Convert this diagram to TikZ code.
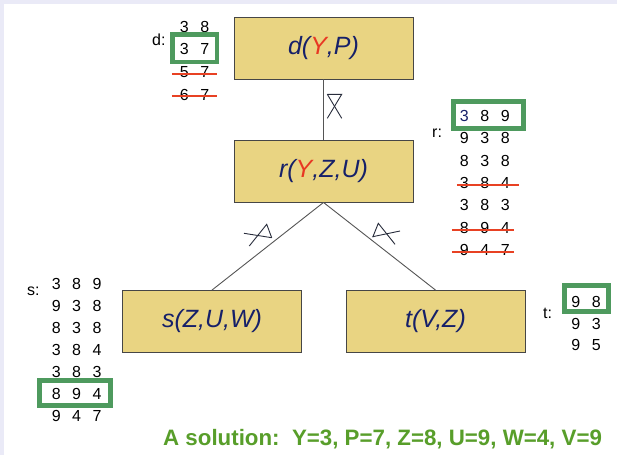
\documentclass[tikz,border=0pt]{standalone}
\usepackage{fontspec}
\setmainfont{Liberation Sans}
\usetikzlibrary{calc}
\definecolor{boxfill}{RGB}{233,212,130}
\definecolor{boxedge}{RGB}{70,70,70}
\definecolor{navy}{RGB}{22,32,105}
\definecolor{redY}{RGB}{232,55,35}
\definecolor{hitgreen}{RGB}{78,154,94}
\definecolor{strikered}{RGB}{232,65,35}
\definecolor{solgreen}{RGB}{88,158,42}
\definecolor{lav}{RGB}{234,234,247}
\definecolor{conngray}{RGB}{85,85,85}
\definecolor{markdark}{RGB}{40,45,60}
\newcommand\dgt[1]{\makebox[20.5pt]{#1}}
\tikzset{
  rel/.style={draw=boxedge, fill=boxfill, line width=0.9pt, minimum width=179pt,
    minimum height=62pt, inner sep=0pt, text=navy,
    font=\fontsize{25}{25}\selectfont\itshape},
  tup/.style={inner sep=0pt, font=\fontsize{16}{16}\selectfont},
  lab/.style={inner sep=0pt, anchor=base west, font=\fontsize{16}{16}\selectfont},
  hitbox/.style={draw=hitgreen, line width=4.5pt},
  strikeline/.style={draw=strikered, line width=2pt},
  conn/.style={draw=conngray, line width=0.9pt},
  edgemark/.style={draw=markdark, line width=0.9pt}
}
\begin{document}
\begin{tikzpicture}[x=1pt,y=-1pt]
\useasboundingbox (0,0) rectangle (617,455);
\fill[white] (0,0) rectangle (617,455);
\fill[lav] (0,0) rectangle (617,3.7);
\fill[lav] (0,0) rectangle (3.7,455);

% relation boxes
\node[rel] (d) at (323.5,48) {d(\textcolor{redY}{Y},P)};
\node[rel] (r) at (323.5,171) {r(\textcolor{redY}{Y},Z,U)};
\node[rel] (s) at (212,321.5) {s(Z,U,W)};
\node[rel] (t) at (435.5,321.5) {t(V,Z)};

% connectors
\draw[conn] (d.south -| r.north) -- (r.north);
\draw[conn] (r.south) -- (s.north);
\draw[conn] (r.south) -- (t.north);

% edge marks
\draw[edgemark] (327.3,94.3) -- (341.7,94.3) -- (327.3,118.3);
\draw[edgemark] (327.3,94.3) -- (341.7,118.3);
\draw[edgemark] (244,233.3) -- (271.7,237.7);
\draw[edgemark] (249.3,246) -- (266.7,224.3) -- (271.7,237.7);
\draw[edgemark] (372.7,236.7) -- (400,231);
\draw[edgemark] (372.7,237.3) -- (378.3,223.3) -- (395,244.3);

% table d
\node[lab] (dl) at (152,45) {d:};
\node[tup] (d1) at (194.5,26.5) {\dgt3\dgt8};
\node[tup] (d2) at (194.5,49.2) {\dgt3\dgt7};
\node[tup] (d3) at (194.5,71.9) {\dgt5\dgt7};
\node[tup] (d4) at (194.5,94.6) {\dgt6\dgt7};
\draw[strikeline] ($(d3.west)+(-2,1.8)$) -- ($(d3.east)+(2,1.8)$);
\draw[strikeline] ($(d4.west)+(-2,1.5)$) -- ($(d4.east)+(2,1.5)$);
\draw[hitbox] (172.5,34.5) rectangle (217,62);

% table r
\node[lab] (rl) at (432,137) {r:};
\node[tup] (r1) at (484.7,116) {\dgt{\textcolor{navy}{3}}\dgt8\dgt9};
\node[tup] (r2) at (484.7,138.3) {\dgt9\dgt3\dgt8};
\node[tup] (r3) at (484.7,160.6) {\dgt8\dgt3\dgt8};
\node[tup] (r4) at (484.7,182.9) {\dgt3\dgt8\dgt4};
\node[tup] (r5) at (484.7,205.2) {\dgt3\dgt8\dgt3};
\node[tup] (r6) at (484.7,227.5) {\dgt8\dgt9\dgt4};
\node[tup] (r7) at (484.7,249.8) {\dgt9\dgt4\dgt7};
\draw[strikeline] ($(r4.west)+(3,2)$) -- ($(r4.east)+(3.5,2)$);
\draw[strikeline] ($(r6.west)+(-2,2.5)$) -- ($(r6.east)+(-1.5,2.5)$);
\draw[strikeline] ($(r7.west)+(-2,2.2)$) -- ($(r7.east)+(-1.5,2.2)$);
\draw[hitbox] (453.3,101.3) rectangle (523.7,128.7);

% table s
\node[lab] (sl) at (27,295) {s:};
\node[tup] (s1) at (76.7,284) {\dgt3\dgt8\dgt9};
\node[tup] (s2) at (76.7,306) {\dgt9\dgt3\dgt8};
\node[tup] (s3) at (76.7,328) {\dgt8\dgt3\dgt8};
\node[tup] (s4) at (76.7,350) {\dgt3\dgt8\dgt4};
\node[tup] (s5) at (76.7,372) {\dgt3\dgt8\dgt3};
\node[tup] (s6) at (76.7,394) {\dgt8\dgt9\dgt4};
\node[tup] (s7) at (76.7,416) {\dgt9\dgt4\dgt7};
\draw[hitbox] (39.3,380.3) rectangle (110.7,405.7);

% table t
\node[lab] (tl) at (543,318) {t:};
\node[tup] (t1) at (586,302) {\dgt9\dgt8};
\node[tup] (t2) at (586,323.5) {\dgt9\dgt3};
\node[tup] (t3) at (586,345) {\dgt9\dgt5};
\draw[hitbox] (564.3,285.3) rectangle (608.7,311.7);

% solution
\node[inner sep=0pt, anchor=base west, text=solgreen,
  font=\fontsize{22.3}{22.3}\selectfont\bfseries] (sol) at (163,445)
  {A solution:\ \ Y=3, P=7, Z=8, U=9, W=4, V=9};
\end{tikzpicture}
\end{document}
